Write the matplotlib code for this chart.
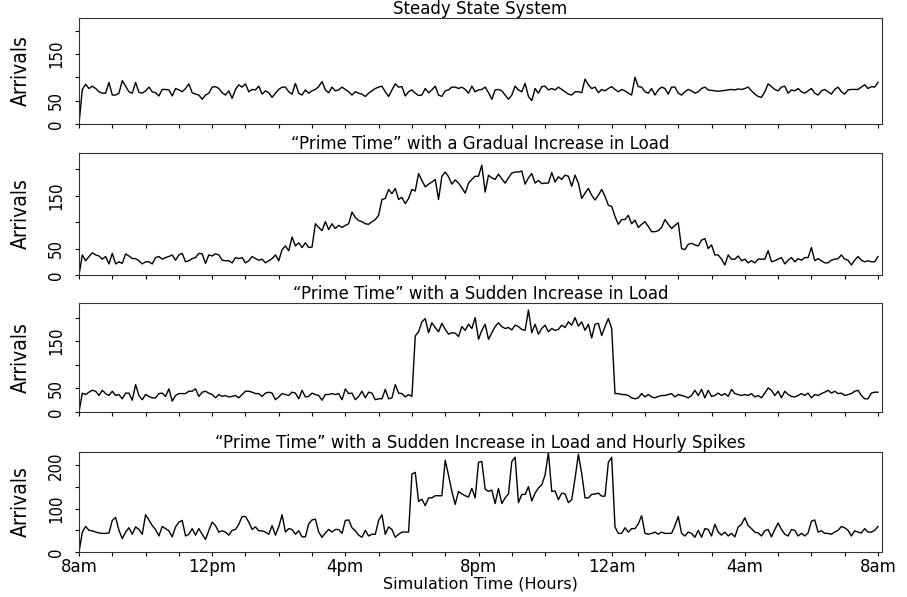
import numpy as np
import matplotlib
matplotlib.use("Agg")
import matplotlib.pyplot as plt
from matplotlib import font_manager

# ---------------- data (arrivals, one value every 6 minutes, 8am -> 8am) ----------------
steady = [
    0, 74, 85, 76, 81, 76, 69, 66, 66, 89,
    62, 62, 66, 93, 81, 69, 66, 89, 68, 66,
    71, 79, 69, 67, 60, 74, 74, 73, 60, 76,
    73, 69, 76, 86, 67, 64, 62, 53, 62, 66,
    79, 80, 76, 67, 62, 71, 55, 74, 84, 79,
    86, 69, 74, 73, 81, 64, 71, 67, 57, 66,
    74, 79, 79, 69, 64, 87, 66, 62, 73, 66,
    71, 74, 80, 91, 73, 67, 79, 71, 73, 79,
    74, 69, 62, 69, 66, 64, 59, 66, 71, 76,
    79, 81, 69, 59, 73, 86, 79, 80, 60, 69,
    73, 66, 61, 62, 76, 67, 73, 81, 62, 59,
    71, 73, 79, 79, 76, 79, 74, 66, 81, 69,
    73, 74, 79, 67, 53, 73, 74, 71, 62, 53,
    62, 81, 73, 69, 87, 59, 50, 76, 66, 80,
    81, 73, 76, 73, 79, 74, 69, 64, 62, 69,
    69, 67, 96, 84, 76, 79, 67, 74, 71, 76,
    80, 74, 69, 74, 71, 66, 62, 100, 80, 79,
    69, 66, 76, 62, 73, 79, 76, 64, 79, 79,
    66, 62, 69, 74, 71, 66, 69, 76, 79, 73,
    72, 71, 70, 71, 72, 73, 74, 73, 75, 74,
    76, 79, 71, 64, 59, 57, 69, 86, 80, 74,
    71, 79, 81, 66, 73, 71, 76, 69, 66, 71,
    76, 66, 62, 71, 74, 69, 64, 74, 79, 69,
    64, 73, 74, 74, 74, 79, 84, 76, 80, 79,
    89,
]

gradual = [
    0, 38, 27, 35, 42, 38, 36, 30, 35, 21,
    41, 21, 25, 22, 40, 36, 31, 31, 27, 21,
    25, 25, 21, 33, 35, 30, 33, 35, 38, 28,
    38, 41, 25, 27, 31, 33, 41, 40, 22, 38,
    36, 40, 38, 28, 27, 27, 23, 33, 31, 33,
    23, 27, 35, 31, 28, 30, 23, 27, 31, 38,
    27, 48, 55, 46, 72, 55, 61, 52, 61, 52,
    53, 97, 90, 84, 101, 86, 97, 88, 94, 90,
    94, 97, 119, 109, 103, 101, 97, 96, 101, 105,
    113, 143, 145, 162, 154, 164, 143, 147, 135, 145,
    162, 159, 192, 179, 167, 172, 176, 181, 143, 187,
    195, 186, 172, 180, 174, 165, 155, 174, 181, 187,
    187, 208, 157, 189, 184, 181, 191, 182, 174, 184,
    193, 195, 195, 197, 172, 184, 192, 174, 179, 173,
    174, 174, 194, 176, 186, 181, 189, 187, 168, 189,
    174, 145, 155, 164, 151, 142, 151, 162, 149, 132,
    130, 111, 96, 105, 105, 113, 97, 104, 90, 96,
    101, 92, 82, 82, 84, 90, 105, 96, 88, 94,
    99, 50, 48, 58, 60, 57, 55, 66, 69, 50,
    57, 38, 38, 30, 19, 38, 30, 30, 36, 27,
    30, 23, 27, 23, 30, 30, 30, 46, 25, 27,
    30, 33, 21, 28, 33, 25, 31, 28, 33, 33,
    52, 27, 31, 27, 23, 23, 28, 30, 31, 38,
    30, 28, 19, 28, 35, 28, 25, 27, 25, 25,
    35,
]

sudden = [
    0, 40, 37, 42, 46, 44, 35, 46, 39, 35,
    44, 35, 37, 28, 40, 40, 25, 58, 35, 26,
    37, 33, 30, 30, 39, 40, 33, 49, 23, 35,
    39, 39, 39, 44, 44, 49, 33, 42, 44, 40,
    37, 30, 37, 33, 35, 32, 33, 35, 30, 37,
    44, 44, 42, 39, 39, 33, 40, 42, 40, 26,
    32, 39, 37, 35, 42, 40, 28, 46, 32, 33,
    40, 37, 35, 25, 37, 37, 39, 37, 39, 26,
    49, 39, 40, 26, 33, 44, 30, 42, 40, 26,
    28, 28, 48, 28, 30, 58, 40, 39, 32, 37,
    33, 161, 170, 191, 198, 168, 189, 179, 170, 188,
    175, 165, 168, 167, 160, 181, 173, 186, 177, 200,
    154, 173, 186, 154, 168, 181, 189, 181, 177, 179,
    174, 184, 181, 175, 173, 216, 168, 186, 165, 177,
    184, 170, 177, 173, 175, 184, 179, 191, 184, 200,
    182, 191, 173, 186, 157, 186, 188, 162, 181, 198,
    177, 39, 39, 37, 37, 35, 30, 28, 30, 39,
    32, 37, 32, 30, 33, 35, 35, 37, 39, 32,
    37, 35, 33, 30, 35, 46, 35, 48, 30, 46,
    33, 35, 40, 35, 39, 33, 48, 39, 37, 35,
    37, 35, 39, 32, 35, 30, 40, 51, 46, 35,
    44, 30, 44, 37, 33, 32, 35, 39, 35, 40,
    30, 37, 35, 39, 42, 46, 40, 44, 39, 40,
    35, 37, 39, 44, 46, 35, 28, 28, 40, 42,
    42,
]

spikes = [
    0, 46, 59, 50, 49, 46, 44, 43, 43, 44,
    73, 80, 50, 31, 46, 56, 41, 58, 52, 41,
    86, 74, 61, 52, 37, 59, 54, 49, 35, 58,
    69, 73, 37, 41, 54, 39, 54, 41, 29, 50,
    69, 61, 46, 49, 46, 39, 50, 52, 64, 82,
    82, 69, 52, 58, 49, 49, 46, 41, 61, 39,
    58, 86, 46, 54, 52, 41, 49, 35, 35, 65,
    74, 76, 46, 34, 44, 52, 46, 52, 52, 43,
    73, 74, 56, 49, 39, 34, 50, 37, 41, 41,
    73, 86, 41, 58, 52, 34, 41, 46, 46, 46,
    180, 184, 117, 122, 107, 125, 125, 130, 130, 130,
    212, 177, 140, 110, 140, 134, 130, 127, 147, 125,
    207, 209, 145, 140, 143, 112, 147, 112, 125, 134,
    209, 219, 114, 133, 133, 151, 118, 136, 148, 155,
    178, 230, 140, 141, 121, 136, 134, 114, 121, 170,
    226, 181, 125, 125, 133, 134, 136, 129, 129, 207,
    219, 58, 43, 43, 56, 46, 54, 54, 65, 84,
    43, 41, 43, 46, 41, 46, 43, 43, 43, 61,
    82, 43, 37, 46, 43, 34, 50, 34, 54, 52,
    37, 64, 46, 39, 46, 37, 43, 35, 58, 64,
    79, 61, 54, 46, 44, 37, 49, 52, 35, 52,
    67, 52, 41, 37, 52, 50, 37, 43, 37, 44,
    71, 74, 46, 49, 43, 43, 41, 46, 50, 59,
    56, 50, 37, 49, 46, 44, 54, 46, 46, 50,
    59,
]

titles = [
    "Steady State System",
    "\u201cPrime Time\u201d with a Gradual Increase in Load",
    "\u201cPrime Time\u201d with a Sudden Increase in Load",
    "\u201cPrime Time\u201d with a Sudden Increase in Load and Hourly Spikes",
]
hour_ticks = list(range(0, 25))
hour_label_pos = [0, 4, 8, 12, 16, 20, 24]
hour_labels = ["8am", "12pm", "4pm", "8pm", "12am", "4am", "8am"]
y_ticks = [0, 50, 100, 150, 200]
y_labels_a = ["0", "50", "", "150", ""]
y_labels_b = ["0", "", "100", "", "200"]
ylabel = "Arrivals"
xlabel = "Simulation Time (Hours)"

series = [steady, gradual, sudden, spikes]
ylabels_sets = [y_labels_a, y_labels_a, y_labels_a, y_labels_b]

# ---------------- figure ----------------
W, H = 907, 597
fig = plt.figure(figsize=(W / 100, H / 100), dpi=100)
plt.rcParams['font.family'] = ['DejaVu Sans']

# pick a condensed face for the rotated (vertical) texts if one is installed
names = {f.name for f in font_manager.fontManager.ttflist}
cond_candidates = ['Liberation Sans Narrow', 'DejaVu Sans Condensed', 'Arial Narrow']
narrow_family = next((n for n in cond_candidates if n in names), 'DejaVu Sans')
narrow_kw = dict(family=[narrow_family, 'DejaVu Sans'])
if narrow_family == 'DejaVu Sans':
    narrow_kw['fontstretch'] = 'condensed'

# (top_px, bottom_px) of each panel
panels_px = [(18, 124), (153, 275), (303, 412), (452, 552)]
left_px, right_px = 79, 882

for i, (top, bot) in enumerate(panels_px):
    ax = fig.add_axes([left_px / W, 1 - bot / H, (right_px - left_px) / W, (bot - top) / H])
    vals = np.array(series[i], dtype=float)
    t = np.arange(len(vals)) / 10.0
    ax.plot(t, vals, color='black', lw=1.0)
    ax.set_xlim(0, 24.12)
    ax.set_ylim(0, 231 if i else 227)
    ax.set_xticks(hour_ticks)
    if i == 3:
        labs = []
        for h in hour_ticks:
            labs.append(hour_labels[hour_label_pos.index(h)] if h in hour_label_pos else "")
        ax.set_xticklabels(labs, fontsize=12)
        ax.set_xlabel(xlabel, fontsize=11.5, labelpad=0)
    else:
        ax.set_xticklabels([])
    ax.set_yticks(y_ticks)
    ax.set_yticklabels(ylabels_sets[i], rotation=90, va='center', fontsize=12, **narrow_kw)
    ax.tick_params(axis='x', direction='out', length=3, width=0.8, pad=1.5)
    ax.tick_params(axis='y', direction='out', length=3, width=0.8, pad=7)
    for s in ax.spines.values():
        s.set_linewidth(0.8)
        s.set_color('#333333')
    ax.set_title(titles[i], fontsize=12, pad=0.5)
    ax.set_ylabel(ylabel, fontsize=15, **narrow_kw)
    ax.yaxis.label.set_va('center')
    ax.yaxis.set_label_coords((21 - left_px) / (right_px - left_px), 0.5)

fig.savefig("out.png", dpi=100)
